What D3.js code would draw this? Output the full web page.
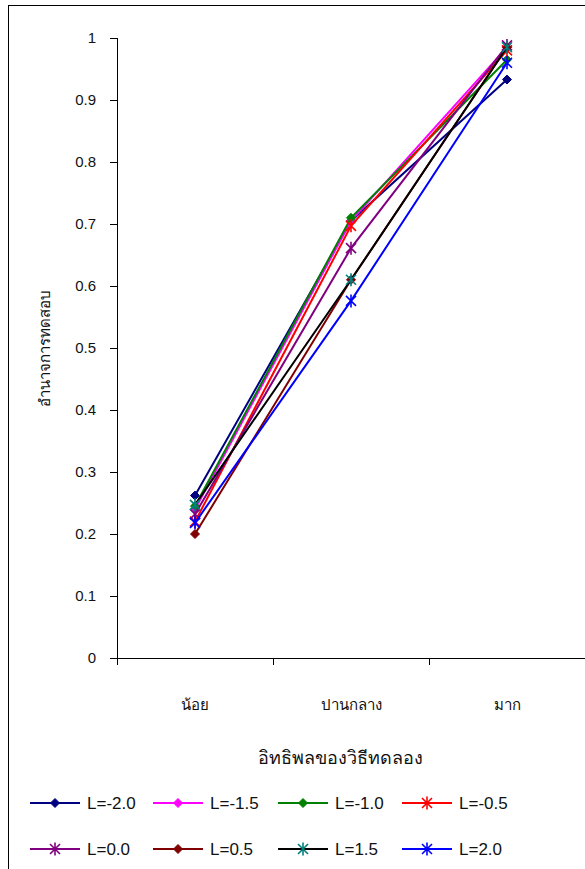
<!DOCTYPE html>
<html>
<head>
<meta charset="utf-8">
<script src="https://cdn.jsdelivr.net/npm/d3@7"></script>
<style>
  body { margin: 0; background: #fff; }
  text { font-family: "Liberation Sans", Arial, sans-serif; fill: #111; }
</style>
</head>
<body>
<div class="chartBox"></div>
<script>
var categories = ['น้อย', 'ปานกลาง', 'มาก'];
var seriesNames = ['L=-2.0', 'L=-1.5', 'L=-1.0', 'L=-0.5', 'L=0.0', 'L=0.5', 'L=1.5', 'L=2.0'];
var lineColors = ['#000080', '#ff00ff', '#008000', '#ff0000', '#800080', '#800000', '#000000', '#0000ff'];
var markerColors = ['#000080', '#ff00ff', '#008000', '#ff0000', '#800080', '#800000', '#008080', '#0000ff'];
var markerTypes = ['diamond', 'diamond', 'diamond', 'star', 'star', 'diamond', 'star', 'star'];
var values = [
  [0.262, 0.705, 0.933],
  [0.240, 0.705, 0.985],
  [0.245, 0.710, 0.965],
  [0.220, 0.697, 0.980],
  [0.232, 0.661, 0.988],
  [0.200, 0.610, 0.985],
  [0.247, 0.610, 0.985],
  [0.218, 0.576, 0.960]
];
var yTicks = [0, 0.1, 0.2, 0.3, 0.4, 0.5, 0.6, 0.7, 0.8, 0.9, 1];

var W = 585, H = 869;
var plot = { left: 117, right: 585, top: 38, bottom: 658 };

var svg = d3.select('div.chartBox')
  .append('svg')
  .attr('width', W)
  .attr('height', H);

// outer frame
svg.append('rect')
  .attr('x', 8.5).attr('y', 5.5)
  .attr('width', W + 10).attr('height', H + 10)
  .attr('fill', 'none').attr('stroke', '#000').attr('stroke-width', 1);

var x = d3.scaleBand().domain(categories).range([plot.left, plot.right]);
var y = d3.scaleLinear().domain([0, 1]).range([plot.bottom, plot.top]);

// y axis
var yAxis = svg.append('g')
  .attr('transform', 'translate(' + plot.left + ',0)')
  .call(d3.axisLeft(y).tickValues(yTicks).tickSize(7).tickPadding(14)
    .tickFormat(function(d) { return d === 0 || d === 1 ? d3.format('d')(d) : d3.format('.1f')(d); }));
yAxis.select('.domain').attr('d', 'M0.5,' + plot.top + 'V' + plot.bottom);
yAxis.selectAll('text').style('font-size', '15px').attr('fill', '#111');

// x axis
var xg = svg.append('g').attr('transform', 'translate(0,' + plot.bottom + ')');
xg.append('line')
  .attr('x1', plot.left - 7).attr('x2', plot.right)
  .attr('y1', 0.5).attr('y2', 0.5)
  .attr('stroke', '#000');
xg.selectAll('line.tick')
  .data(categories.slice(1))
  .enter()
  .append('line')
  .attr('class', 'tick')
  .attr('x1', function(d) { return Math.round(x(d)) + 0.5; })
  .attr('x2', function(d) { return Math.round(x(d)) + 0.5; })
  .attr('y1', 0).attr('y2', 7)
  .attr('stroke', '#000');
xg.append('line')
  .attr('x1', plot.left + 0.5).attr('x2', plot.left + 0.5)
  .attr('y1', 0).attr('y2', 7).attr('stroke', '#000');
xg.selectAll('text.cat')
  .data(categories)
  .enter()
  .append('text')
  .attr('class', 'cat')
  .attr('x', function(d) { return x(d) + x.bandwidth() / 2; })
  .attr('y', 52)
  .attr('text-anchor', 'middle')
  .style('font-size', '15px')
  .text(function(d) { return d; });

// axis titles
svg.append('text')
  .attr('x', 340).attr('y', 764)
  .attr('text-anchor', 'middle')
  .style('font-size', '18px')
  .text('อิทธิพลของวิธีทดลอง');
svg.append('text')
  .attr('transform', 'translate(50,348) rotate(-90)')
  .attr('text-anchor', 'middle')
  .style('font-size', '15px')
  .text('อำนาจการทดสอบ');

function drawMarker(g, type, color) {
  if (type === 'diamond') {
    g.append('path')
      .attr('d', 'M0,-4.5L4.5,0L0,4.5L-4.5,0Z')
      .attr('fill', color).attr('stroke', color);
  } else {
    g.append('path')
      .attr('d', 'M-5,-5L5,5M-5,5L5,-5M0,-6.5V6.5')
      .attr('fill', 'none').attr('stroke', color).attr('stroke-width', 1.6);
  }
}

var line = d3.line()
  .x(function(d, i) { return x(categories[i]) + x.bandwidth() / 2; })
  .y(function(d) { return y(d); });

var series = svg.selectAll('g.series')
  .data(values)
  .enter()
  .append('g')
  .attr('class', 'series');

series.append('path')
  .attr('d', function(d) { return line(d); })
  .attr('fill', 'none')
  .attr('stroke', function(d, i) { return lineColors[i]; })
  .attr('stroke-width', 2);

series.each(function(d, i) {
  var g = d3.select(this);
  d.forEach(function(v, j) {
    var m = g.append('g')
      .attr('transform', 'translate(' + (x(categories[j]) + x.bandwidth() / 2) + ',' + y(v) + ')');
    drawMarker(m, markerTypes[i], markerColors[i]);
  });
});

// legend
var legX = [30, 153, 278, 402];
var legY = [803, 849];
var legend = svg.selectAll('g.legend')
  .data(seriesNames)
  .enter()
  .append('g')
  .attr('class', 'legend')
  .attr('transform', function(d, i) { return 'translate(' + legX[i % 4] + ',' + legY[Math.floor(i / 4)] + ')'; });

legend.append('line')
  .attr('x1', 0).attr('x2', 50)
  .attr('stroke', function(d, i) { return lineColors[i]; })
  .attr('stroke-width', 2);
legend.each(function(d, i) {
  var m = d3.select(this).append('g').attr('transform', 'translate(25,0)');
  drawMarker(m, markerTypes[i], markerColors[i]);
});
legend.append('text')
  .attr('x', 57).attr('y', 6)
  .style('font-size', '17px')
  .text(function(d) { return d; });
</script>
</body>
</html>
